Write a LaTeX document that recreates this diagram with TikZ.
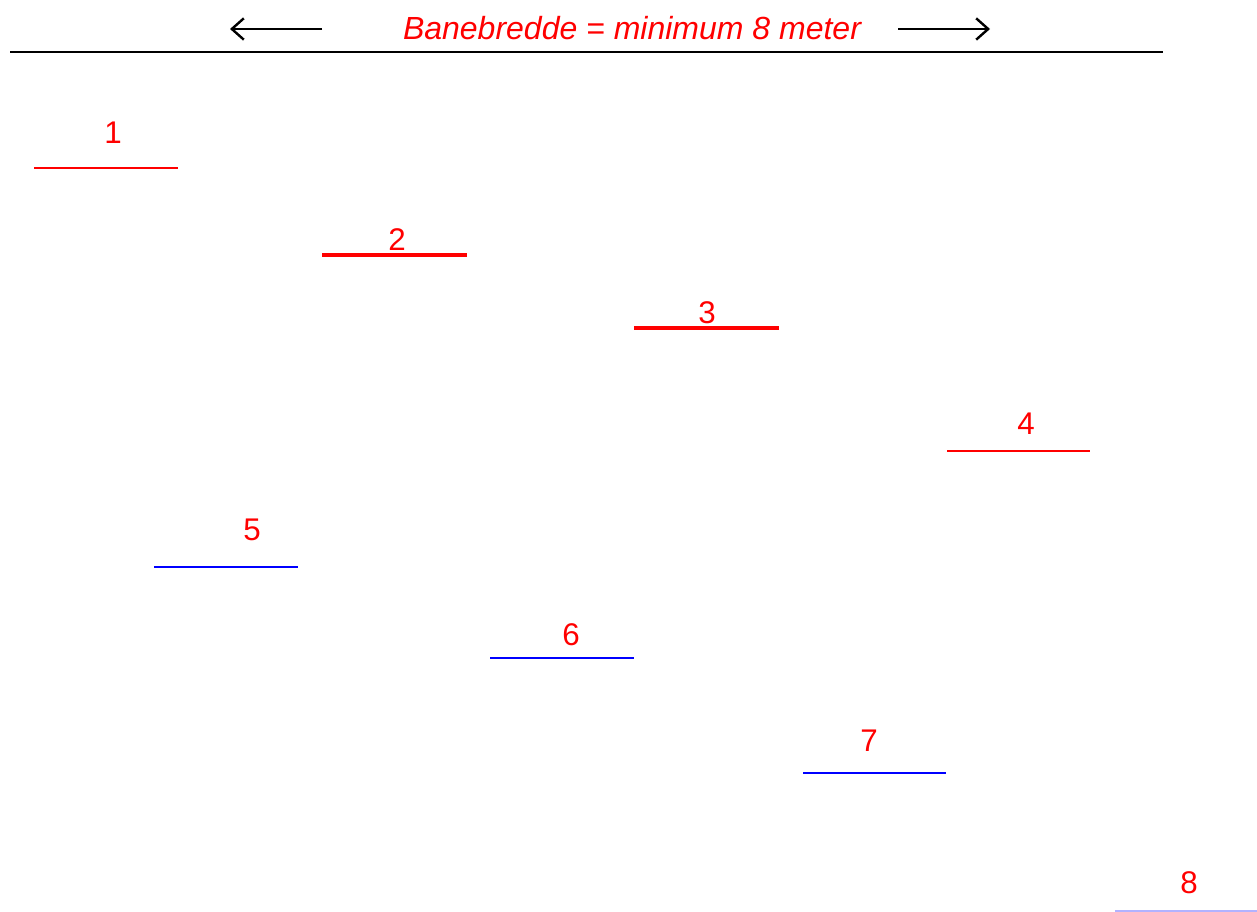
\documentclass[tikz,border=0pt]{standalone}
\usepackage{fontspec}
\setmainfont{Liberation Sans}
\usetikzlibrary{
	arrows.meta,
	positioning,
}
\tikzset{heading/.style={
		% The text:
		text=red,font=\fontsize{24}{28}\selectfont\itshape,
		inner sep=0pt,
}}
\tikzset{number/.style={
		% The text:
		text=red,font=\fontsize{23.5}{28}\selectfont,
		inner sep=0pt,
}}
\tikzset{redthin/.style={
		% The line:
		draw=red,line width=1.3pt,
}}
\tikzset{redthick/.style={
		% The line:
		draw=red,line width=2.6pt,
}}
\tikzset{bluethin/.style={
		% The line:
		draw=blue,line width=1.6pt,
}}

\begin{document}
\begin{tikzpicture}[x=0.75pt,y=-0.75pt,
	>={Straight Barb[length=9pt,width=16pt]}]
	\useasboundingbox (0,0) rectangle (1257,912);
	% width of the lane
	\node [heading] (title) at (632,28) {Banebredde = minimum 8 meter};
	\coordinate (lefttail) at (322,29);
	\coordinate (lefthead) at (230,29);
	\coordinate (righttail) at (898,29);
	\coordinate (righthead) at (990,29);
	\draw [->,line width=1.8pt] (lefttail) -- (lefthead);
	\draw [->,line width=1.8pt] (righttail) -- (righthead);
	\coordinate (edgeL) at (10,52);
	\coordinate (edgeR) at (1163,52);
	\draw [line width=1.8pt] (edgeL) -- (edgeR);
	% the marks
	\coordinate (m1a) at (34,168); \coordinate (m1b) at (178,168);
	\draw [redthin] (m1a) -- (m1b);
	\node [number] (n1) at (113,133) {1};
	\coordinate (m2a) at (322,255); \coordinate (m2b) at (467,255);
	\draw [redthick] (m2a) -- (m2b);
	\node [number] (n2) at (397,240) {2};
	\coordinate (m3a) at (634,328); \coordinate (m3b) at (779,328);
	\draw [redthick] (m3a) -- (m3b);
	\node [number] (n3) at (707,313) {3};
	\coordinate (m4a) at (947,451); \coordinate (m4b) at (1090,451);
	\draw [redthin] (m4a) -- (m4b);
	\node [number] (n4) at (1026,424) {4};
	\coordinate (m5a) at (154,567); \coordinate (m5b) at (298,567);
	\draw [bluethin] (m5a) -- (m5b);
	\node [number] (n5) at (252,530) {5};
	\coordinate (m6a) at (490,658); \coordinate (m6b) at (634,658);
	\draw [bluethin] (m6a) -- (m6b);
	\node [number] (n6) at (571,635) {6};
	\coordinate (m7a) at (803,773); \coordinate (m7b) at (946,773);
	\draw [bluethin] (m7a) -- (m7b);
	\node [number] (n7) at (869,741) {7};
	\coordinate (m8a) at (1115,911); \coordinate (m8b) at (1257,911);
	\draw [draw=blue!30,line width=1pt] (m8a) -- (m8b);
	\node [number] (n8) at (1189,883) {8};
\end{tikzpicture}
\end{document}
